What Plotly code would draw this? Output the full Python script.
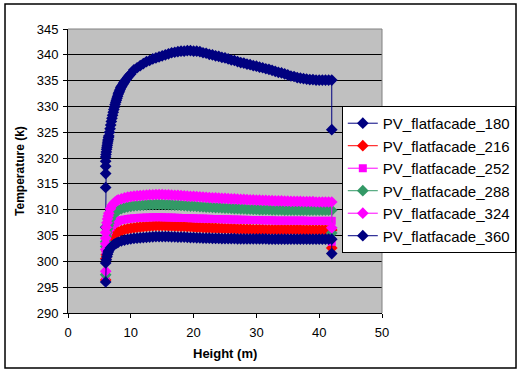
import plotly.graph_objects as go

# Shared measurement heights (m) for the upper part of every profile
heights = [
    10.5, 11.0, 11.5, 12.0,
    12.5, 13.0, 13.5, 14.0, 14.5, 15.0, 15.5, 16.0, 16.5, 17.0, 17.5, 18.0,
    18.5, 19.0, 19.5, 20.0, 20.5, 21.0, 21.5, 22.0, 22.5, 23.0, 23.5, 24.0,
    24.5, 25.0, 25.5, 26.0, 26.5, 27.0, 27.5, 28.0, 28.5, 29.0, 29.5, 30.0,
    30.5, 31.0, 31.5, 32.0, 32.5, 33.0, 33.5, 34.0, 34.5, 35.0, 35.5, 36.0,
    36.5, 37.0, 37.5, 38.0, 38.5, 39.0, 39.5, 40.0, 40.5, 41.0, 41.5, 42.0,
]

series_names = [
    "PV_flatfacade_180", "PV_flatfacade_216", "PV_flatfacade_252",
    "PV_flatfacade_288", "PV_flatfacade_324", "PV_flatfacade_360",
]

# Lower facade readings (6 m to 10 m), finer spacing where the profile climbs
head_h_180 = [6.0, 6.0, 6.0, 6.0, 6.0, 6.0, 6.05, 6.1, 6.15, 6.2, 6.25, 6.3, 6.35,
              6.4, 6.45, 6.5, 6.6, 6.7, 6.8, 6.9, 7.0, 7.1, 7.2, 7.3, 7.4, 7.5,
              7.6, 7.7, 7.8, 7.9, 8.0, 8.1, 8.2, 8.3, 8.4, 8.5, 8.6, 8.75, 8.9,
              9.0, 9.25, 9.5, 9.75, 10.0]
head_t_180 = [306.6, 314.3, 317.0, 318.4, 319.4, 320.2, 320.7, 321.2, 321.7, 322.1,
              322.5, 322.9, 323.3, 323.6, 324.0, 324.3, 325.0, 325.7, 326.4, 327.1,
              327.7, 328.3, 328.9, 329.4, 329.9, 330.4, 330.8, 331.2, 331.6, 332.0,
              332.4, 332.7, 333.0, 333.3, 333.6, 333.8, 334.0, 334.3, 334.6, 334.8,
              335.2, 335.6, 336.0, 336.3]
head_h_216 = [6.0, 6.0, 6.1, 6.2, 6.3, 6.4, 6.5, 6.75, 7.0, 7.25, 7.5, 7.75, 8.0,
              8.5, 9.0, 9.5, 10.0]
head_t_216 = [296.4, 300.5, 301.3, 302.0, 302.6, 303.1, 303.5, 304.2, 304.7, 305.0,
              305.3, 305.5, 305.7, 305.95, 306.15, 306.3, 306.4]
head_h_252 = [6.0, 6.0, 6.0, 6.1, 6.2, 6.3, 6.4, 6.5, 6.75, 7.0, 7.25, 7.5, 7.75,
              8.0, 8.5, 9.0, 9.5, 10.0]
head_t_252 = [297.0, 302.0, 304.0, 304.6, 305.1, 305.5, 305.8, 306.1, 306.6, 307.0,
              307.3, 307.5, 307.7, 307.8, 308.0, 308.1, 308.2, 308.3]
head_h_288 = [6.0, 6.0, 6.0, 6.1, 6.2, 6.3, 6.4, 6.5, 6.75, 7.0, 7.25, 7.5, 7.75,
              8.0, 8.5, 9.0, 9.5, 10.0]
head_t_288 = [297.4, 302.9, 303.8, 304.8, 305.6, 306.3, 306.9, 307.4, 308.2, 308.8,
              309.2, 309.5, 309.7, 309.9, 310.2, 310.4, 310.55, 310.65]
head_h_324 = [6.0, 6.0, 6.0, 6.0, 6.0, 6.1, 6.2, 6.3, 6.4, 6.5, 6.75, 7.0, 7.25,
              7.5, 7.75, 8.0, 8.5, 9.0, 9.5, 10.0]
head_t_324 = [298.1, 302.3, 303.4, 304.5, 305.6, 306.6, 307.5, 308.2, 308.8, 309.3,
              310.2, 310.8, 311.2, 311.5, 311.7, 311.9, 312.1, 312.3, 312.45, 312.55]
head_h_360 = [6.0, 6.0, 6.1, 6.2, 6.3, 6.4, 6.5, 6.75, 7.0, 7.25, 7.5, 7.75, 8.0,
              8.5, 9.0, 9.5, 10.0]
head_t_360 = [296.0, 299.7, 300.3, 300.9, 301.4, 301.8, 302.1, 302.6, 302.9, 303.2,
              303.4, 303.55, 303.7, 303.95, 304.1, 304.25, 304.35]

# Temperatures (K) at the shared heights
temp_180 = [
    337.1, 337.5, 337.9, 338.3,
    338.7, 338.9, 339.2, 339.4, 339.6, 339.8, 340.0, 340.2, 340.4, 340.5, 340.6, 340.7,
    340.7, 340.8, 340.8, 340.7, 340.7, 340.6, 340.4, 340.3, 340.1, 340.0, 339.8, 339.7,
    339.5, 339.4, 339.2, 339.0, 338.9, 338.7, 338.5, 338.4, 338.2, 338.1, 337.9, 337.8,
    337.6, 337.5, 337.3, 337.2, 337.0, 336.8, 336.6, 336.5, 336.3, 336.1, 335.9, 335.8,
    335.6, 335.5, 335.4, 335.3, 335.2, 335.2, 335.1, 335.1, 335.1, 335.1, 335.1, 335.1,
]
temp_216 = [
    306.5, 306.6, 306.65, 306.7,
    306.75, 306.8, 306.85, 306.9, 306.9, 306.9, 306.9, 306.85, 306.85, 306.8, 306.8, 306.75,
    306.75, 306.7, 306.7, 306.65, 306.6, 306.6, 306.55, 306.5, 306.5, 306.45, 306.45, 306.4,
    306.4, 306.35, 306.35, 306.3, 306.3, 306.25, 306.25, 306.2, 306.2, 306.2, 306.15, 306.15,
    306.15, 306.15, 306.1, 306.1, 306.1, 306.1, 306.1, 306.1, 306.1, 306.1, 306.1, 306.1,
    306.1, 306.1, 306.05, 306.05, 306.05, 306.05, 306.05, 306.05, 306.05, 306.05, 306.05, 306.05,
]
temp_252 = [
    308.35, 308.4, 308.45, 308.45,
    308.5, 308.5, 308.55, 308.55, 308.55, 308.55, 308.5, 308.5, 308.5, 308.45, 308.45, 308.4,
    308.4, 308.4, 308.35, 308.35, 308.3, 308.3, 308.3, 308.25, 308.25, 308.2, 308.2, 308.2,
    308.15, 308.15, 308.15, 308.1, 308.1, 308.1, 308.05, 308.05, 308.05, 308.0, 308.0, 308.0,
    308.0, 307.95, 307.95, 307.95, 307.95, 307.9, 307.9, 307.9, 307.9, 307.9, 307.9, 307.9,
    307.9, 307.9, 307.9, 307.85, 307.85, 307.85, 307.85, 307.85, 307.85, 307.85, 307.85, 307.85,
]
temp_288 = [
    310.75, 310.8, 310.85, 310.9,
    310.95, 311.0, 311.0, 311.05, 311.05, 311.05, 311.0, 311.0, 310.95, 310.9, 310.9, 310.85,
    310.8, 310.75, 310.7, 310.7, 310.65, 310.6, 310.55, 310.5, 310.5, 310.45, 310.4, 310.4,
    310.35, 310.3, 310.3, 310.25, 310.2, 310.2, 310.15, 310.15, 310.1, 310.1, 310.05, 310.05,
    310.0, 310.0, 310.0, 310.0, 309.95, 309.95, 309.95, 309.95, 309.9, 309.9, 309.9, 309.9,
    309.9, 309.9, 309.9, 309.9, 309.9, 309.9, 309.9, 309.9, 309.9, 309.9, 309.9, 309.9,
]
temp_324 = [
    312.65, 312.7, 312.75, 312.8,
    312.85, 312.9, 312.9, 312.95, 312.95, 312.95, 312.9, 312.9, 312.85, 312.8, 312.8, 312.75,
    312.7, 312.65, 312.6, 312.6, 312.55, 312.5, 312.45, 312.4, 312.35, 312.3, 312.3, 312.25,
    312.2, 312.2, 312.15, 312.1, 312.1, 312.05, 312.0, 312.0, 311.95, 311.9, 311.9, 311.85,
    311.85, 311.8, 311.8, 311.75, 311.75, 311.7, 311.7, 311.7, 311.65, 311.65, 311.6, 311.6,
    311.6, 311.6, 311.55, 311.55, 311.55, 311.55, 311.5, 311.5, 311.5, 311.5, 311.5, 311.5,
]
temp_360 = [
    304.45, 304.5, 304.55, 304.6,
    304.65, 304.7, 304.75, 304.8, 304.8, 304.8, 304.8, 304.8, 304.75, 304.75, 304.7, 304.7,
    304.7, 304.65, 304.6, 304.6, 304.55, 304.55, 304.5, 304.5, 304.5, 304.45, 304.45, 304.45,
    304.4, 304.4, 304.4, 304.4, 304.4, 304.35, 304.35, 304.35, 304.35, 304.35, 304.35, 304.35,
    304.35, 304.35, 304.35, 304.3, 304.3, 304.3, 304.3, 304.3, 304.3, 304.3, 304.3, 304.3,
    304.3, 304.3, 304.3, 304.3, 304.3, 304.3, 304.3, 304.3, 304.3, 304.3, 304.3, 304.3,
]

# Final reading at the top of the facade
tail_h = 42.0
tail_t = [325.5, 302.6, 303.8, 305.5, 306.5, 301.5]

heads_h = [head_h_180, head_h_216, head_h_252, head_h_288, head_h_324, head_h_360]
heads_t = [head_t_180, head_t_216, head_t_252, head_t_288, head_t_324, head_t_360]
bodies = [temp_180, temp_216, temp_252, temp_288, temp_324, temp_360]

colors = ["#000080", "#FF0000", "#FF00FF", "#339966", "#FF00FF", "#000080"]
symbols = ["diamond", "diamond", "square", "diamond", "diamond", "diamond"]
sizes = [9, 9, 8, 9, 9, 9]

fig = go.Figure()
for i, name in enumerate(series_names):
    xs = heads_h[i] + heights + [tail_h]
    ys = heads_t[i] + bodies[i] + [tail_t[i]]
    fig.add_trace(go.Scatter(
        x=xs, y=ys, name=name, mode="lines+markers",
        line=dict(color=colors[i], width=1),
        marker=dict(color=colors[i], symbol=symbols[i], size=sizes[i],
                    line=dict(width=0)),
        legendgroup=name,
    ))

font_family = "Arial, Liberation Sans, sans-serif"

fig.update_layout(
    width=517, height=372,
    margin=dict(l=68, r=135, t=29, b=59, autoexpand=False),
    paper_bgcolor="white",
    plot_bgcolor="#C0C0C0",
    font=dict(family=font_family, size=13, color="black"),
    showlegend=True,
    legend=dict(
        x=0.872, y=0.729, xanchor="left", yanchor="top",
        bgcolor="white", bordercolor="black", borderwidth=1,
        font=dict(family=font_family, size=15, color="black"),
        tracegroupgap=0,
    ),
    xaxis=dict(
        range=[0, 50], dtick=10, tick0=0, showgrid=False, zeroline=False,
        showline=True, linecolor="black", linewidth=1,
        ticks="outside", ticklen=4, tickcolor="black",
        tickfont=dict(size=13), ticklabelstandoff=3,
    ),
    yaxis=dict(
        range=[290, 345], dtick=5, tick0=290, showgrid=True,
        gridcolor="black", gridwidth=1, zeroline=False,
        showline=True, linecolor="black", linewidth=1,
        ticks="outside", ticklen=4, tickcolor="black",
        tickfont=dict(size=13), ticklabelstandoff=2,
    ),
    annotations=[
        dict(text="<b>Height (m)</b>", xref="paper", yref="paper",
             x=0.5, y=-0.141, xanchor="center", yanchor="middle",
             showarrow=False, font=dict(size=13)),
        dict(text="<b>Temperature (k)</b>", xref="paper", yref="paper",
             x=-0.153, y=0.5, xanchor="center", yanchor="middle",
             textangle=-90, showarrow=False, font=dict(size=12)),
    ],
    shapes=[
        # Grey frame on the top and right of the plotting area
        dict(type="line", xref="paper", yref="paper", x0=0, x1=1, y0=1, y1=1,
             line=dict(color="#808080", width=1)),
        dict(type="line", xref="paper", yref="paper", x0=1, x1=1, y0=0, y1=1,
             line=dict(color="#808080", width=1)),
        # Outer chart border
        dict(type="rect", xref="paper", yref="paper",
             x0=-0.2006, x1=1.4268, y0=-0.1937, y1=1.088,
             line=dict(color="black", width=1.5), fillcolor="rgba(0,0,0,0)"),
    ],
)

fig.write_html("out.html")
